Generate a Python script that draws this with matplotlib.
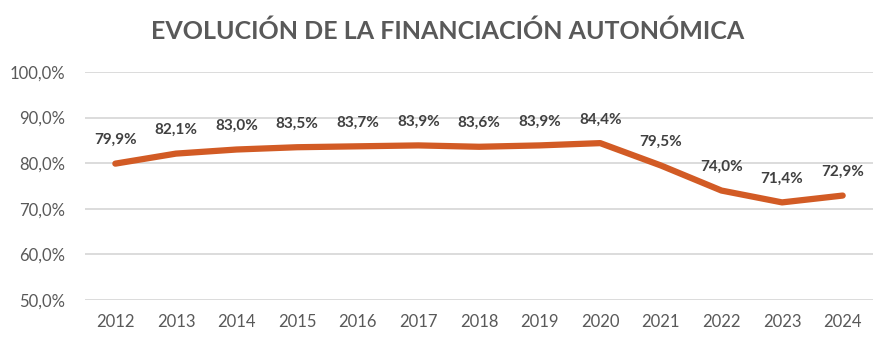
import matplotlib
matplotlib.use('Agg')
import matplotlib.pyplot as plt
from matplotlib.ticker import FuncFormatter

years = ['2012', '2013', '2014', '2015', '2016', '2017', '2018',
         '2019', '2020', '2021', '2022', '2023', '2024']
values = [79.9, 82.1, 83.0, 83.5, 83.7, 83.9, 83.6, 83.9, 84.4, 79.5, 74.0, 71.4, 72.9]

plt.rcParams['font.family'] = ['Lato', 'DejaVu Sans']

fig = plt.figure(figsize=(8.95, 3.44), dpi=100)
ax = fig.add_axes([0.095, 0.128, 0.8804, 0.6627])

x = list(range(len(years)))
ax.plot(x, values, color='#D25B25', linewidth=4.5, solid_capstyle='round',
        solid_joinstyle='round', zorder=3)

for xi, v in zip(x, values):
    ax.annotate(f'{v:.1f}%'.replace('.', ','), (xi, v), xytext=(0, 17),
                textcoords='offset points', ha='center', va='center',
                fontsize=11, fontweight='bold', color='#404040')

ax.set_xlim(-0.5, len(years) - 0.5)
ax.set_ylim(50, 100)
ax.set_yticks(range(50, 101, 10))
ax.yaxis.set_major_formatter(FuncFormatter(lambda v, p: f'{v:.1f}%'.replace('.', ',')))
ax.set_xticks(x)
ax.set_xticklabels(years)
ax.tick_params(length=0, labelsize=12, labelcolor='#595959', pad=10)
ax.tick_params(axis='y', pad=14)
ax.grid(axis='y', color='#D9D9D9', linewidth=1.3)
ax.set_axisbelow(True)
for s in ax.spines.values():
    s.set_visible(False)

fig.text(0.5, 0.91, 'EVOLUCIÓN DE LA FINANCIACIÓN AUTONÓMICA', ha='center', va='center',
         fontsize=18, fontweight='bold', color='#595959')

fig.savefig('out.png', dpi=100)
